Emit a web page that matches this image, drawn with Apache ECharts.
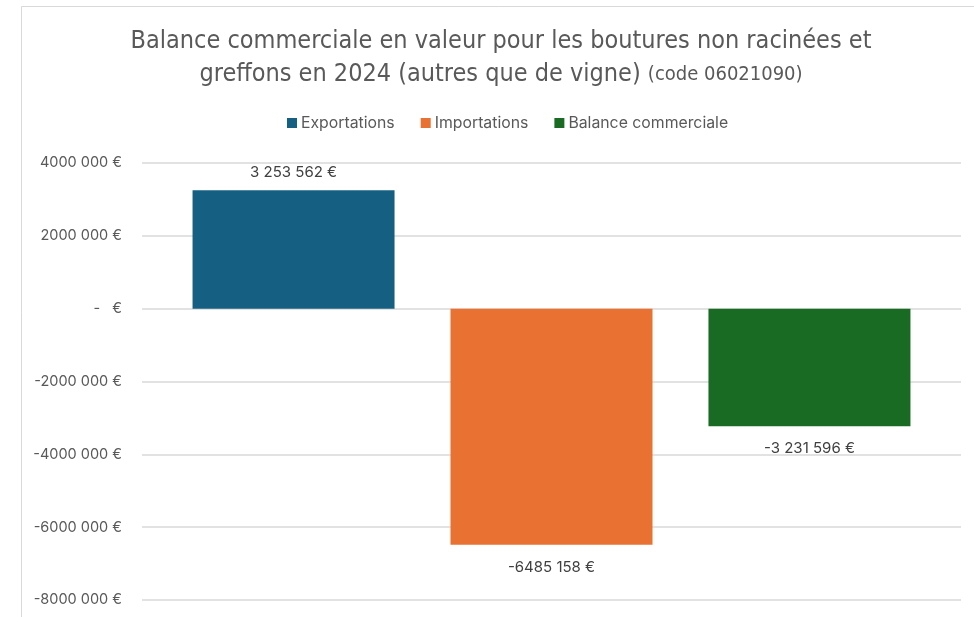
<!DOCTYPE html>
<html>
<head>
<meta charset="utf-8">
<script src="https://cdn.jsdelivr.net/npm/echarts@6/dist/echarts.min.js"></script>
<style>
  html, body { margin: 0; padding: 0; background: #ffffff; }
  #chart { width: 974px; height: 617px; }
</style>
</head>
<body>
<div id="chart"></div>
<script>
// Trade balance for unrooted cuttings and grafts, 2024 (HS code 06021090)
const categories = ['2024'];
const seriesNames = ['Exportations', 'Importations', 'Balance commerciale'];
const seriesValues = [3253562, -6485158, -3231596];
const valueLabels = ['3 253 562 €', '-6485 158 €', '-3 231 596 €'];
const seriesColors = ['#156082', '#E97132', '#196B24'];
const tickValues = [-8000000, -6000000, -4000000, -2000000, 0, 2000000, 4000000];
const tickLabels = ['-8000 000 €', '-6000 000 €', '-4000 000 €', '-2000 000 €', '-   €', '2000 000 €', '4000 000 €'];

const labelFont = 'Inter, "Noto Sans", sans-serif';
const titleFont = '"DejaVu Sans Condensed", "Liberation Sans", sans-serif';

const chart = echarts.init(document.getElementById('chart'), null, { renderer: 'canvas' });

const series = seriesNames.map((name, i) => ({
  name: name,
  type: 'bar',
  data: [seriesValues[i]],
  barWidth: 202,
  barGap: '27.7%',
  itemStyle: { color: seriesColors[i] },
  label: {
    show: true,
    position: seriesValues[i] >= 0 ? 'top' : 'bottom',
    distance: seriesValues[i] >= 0 ? 10 : 15,
    color: '#404040',
    fontSize: 15,
    fontFamily: labelFont,
    formatter: () => valueLabels[i]
  }
}));

chart.setOption({
  backgroundColor: '#ffffff',
  animation: false,
  title: {
    text: 'Balance commerciale en valeur pour les boutures non racinées et\ngreffons en 2024 (autres que de vigne) {s|(code 06021090)}',
    left: 501,
    top: 25,
    padding: 0,
    textAlign: 'center',
    textStyle: {
      color: '#595959',
      fontSize: 25,
      fontWeight: 'normal',
      fontFamily: titleFont,
      lineHeight: 33,
      rich: {
        s: { fontSize: 20, color: '#595959', fontFamily: titleFont, lineHeight: 33 }
      }
    }
  },
  legend: {
    data: seriesNames,
    left: 287,
    top: 115,
    padding: 0,
    itemWidth: 10,
    itemHeight: 10,
    itemGap: 26,
    icon: 'rect',
    textStyle: { color: '#595959', fontSize: 15.8, fontFamily: labelFont, padding: [0, 0, 0, -1] }
  },
  grid: {
    left: 142,
    right: 13,
    top: 163,
    bottom: 17,
    containLabel: false
  },
  xAxis: {
    type: 'category',
    data: categories,
    axisLine: { show: false },
    axisTick: { show: false },
    axisLabel: { show: false }
  },
  yAxis: {
    type: 'value',
    min: -8000000,
    max: 4000000,
    interval: 2000000,
    axisLine: { show: false },
    axisTick: { show: false },
    splitLine: { lineStyle: { color: '#d9d9d9', width: 1.5 } },
    axisLabel: {
      margin: 20,
      color: '#595959',
      fontSize: 14.5,
      fontFamily: labelFont,
      formatter: (v) => {
        const k = tickValues.indexOf(v);
        return k >= 0 ? tickLabels[k] : '';
      }
    }
  },
  graphic: [{
    type: 'rect',
    shape: { x: 21.5, y: 6.5, width: 1000, height: 700 },
    style: { fill: 'none', stroke: '#d9d9d9', lineWidth: 1 },
    silent: true,
    z: -1
  }],
  series: series
});
</script>
</body>
</html>
